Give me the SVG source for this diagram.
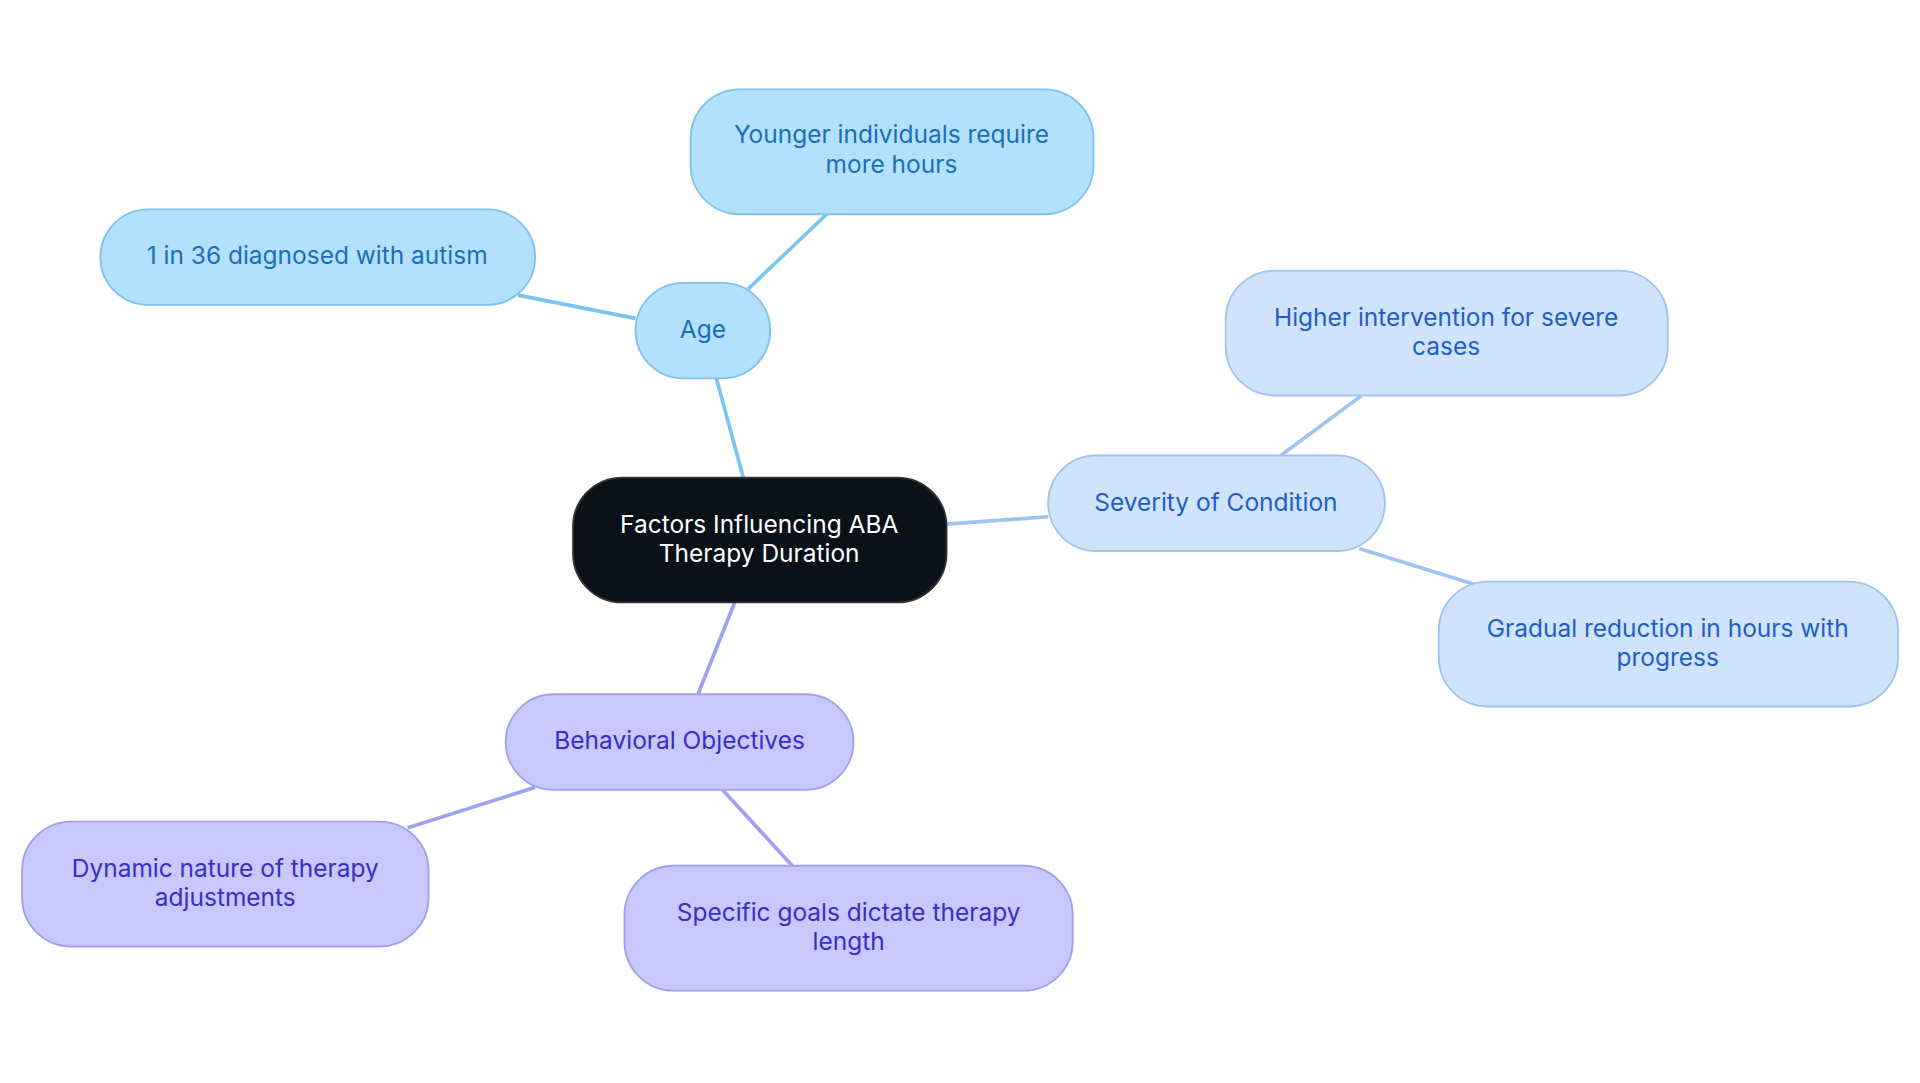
<svg xmlns="http://www.w3.org/2000/svg" width="1920" height="1083" viewBox="0 0 1920 1083">
<style>
text{font-family:Inter,"Noto Sans",sans-serif;font-size:20px;text-anchor:middle}
.a rect{fill:#b3e0fd;stroke:#7cc3f0;stroke-width:1.5}.a text{fill:#1a6fb5}
.s rect{fill:#cfe3fb;stroke:#9fc4f0;stroke-width:1.5}.s text{fill:#1f5fc4}
.b rect{fill:#c8c8fd;stroke:#a0a0f0;stroke-width:1.5}.b text{fill:#3a2fc0}
.ea{stroke:#7cc3f0;stroke-width:3;fill:none}.es{stroke:#9fc4f0;stroke-width:3}.eb{stroke:#a0a0f0;stroke-width:3}
</style>
<rect width="1920" height="1083" fill="#fff"/>
<g transform="scale(1.2245)">
<g id="connectors">
<line class="ea" x1="607" y1="390" x2="585" y2="309"/>
<line class="ea" x1="611" y1="236" x2="675" y2="175"/>
<line class="ea" x1="519" y1="260" x2="423" y2="241"/>
<line class="es" x1="773" y1="428" x2="856" y2="422"/>
<line class="es" x1="1046" y1="372" x2="1112" y2="323"/>
<line class="es" x1="1110" y1="448" x2="1203" y2="477"/>
<line class="eb" x1="600" y1="492" x2="570" y2="567"/>
<line class="eb" x1="437" y1="643" x2="333" y2="676"/>
<line class="eb" x1="590" y1="645" x2="647" y2="707"/>
</g>
<g id="center"><rect x="468" y="390" width="305" height="102" rx="40" fill="#0b1119" stroke="#333" stroke-width="1.5"/><text x="620" y="435" fill="#fff">Factors Influencing ABA</text><text x="620" y="459" fill="#fff">Therapy Duration</text></g>
<g id="age" class="a"><rect x="519" y="231" width="110" height="78" rx="39"/><text x="574" y="276">Age</text></g>
<g id="younger" class="a"><rect x="564" y="73" width="329" height="102" rx="40"/><text x="728" y="117">Younger individuals require</text><text x="728" y="141">more hours</text></g>
<g id="autism" class="a"><rect x="82" y="171" width="355" height="78" rx="39"/><text x="259" y="216">1 in 36 diagnosed with autism</text></g>
<g id="severity" class="s"><rect x="856" y="372" width="275" height="78" rx="39"/><text x="993" y="417">Severity of Condition</text></g>
<g id="higher" class="s"><rect x="1001" y="221" width="361" height="102" rx="40"/><text x="1181" y="266">Higher intervention for severe</text><text x="1181" y="290">cases</text></g>
<g id="gradual" class="s"><rect x="1175" y="475" width="375" height="102" rx="40"/><text x="1362" y="520">Gradual reduction in hours with</text><text x="1362" y="544">progress</text></g>
<g id="behavioral" class="b"><rect x="413" y="567" width="284" height="78" rx="39"/><text x="555" y="612">Behavioral Objectives</text></g>
<g id="dynamic" class="b"><rect x="18" y="671" width="332" height="102" rx="40"/><text x="184" y="716">Dynamic nature of therapy</text><text x="184" y="740">adjustments</text></g>
<g id="specific" class="b"><rect x="510" y="707" width="366" height="102" rx="40"/><text x="693" y="752">Specific goals dictate therapy</text><text x="693" y="776">length</text></g>
</g>
</svg>
